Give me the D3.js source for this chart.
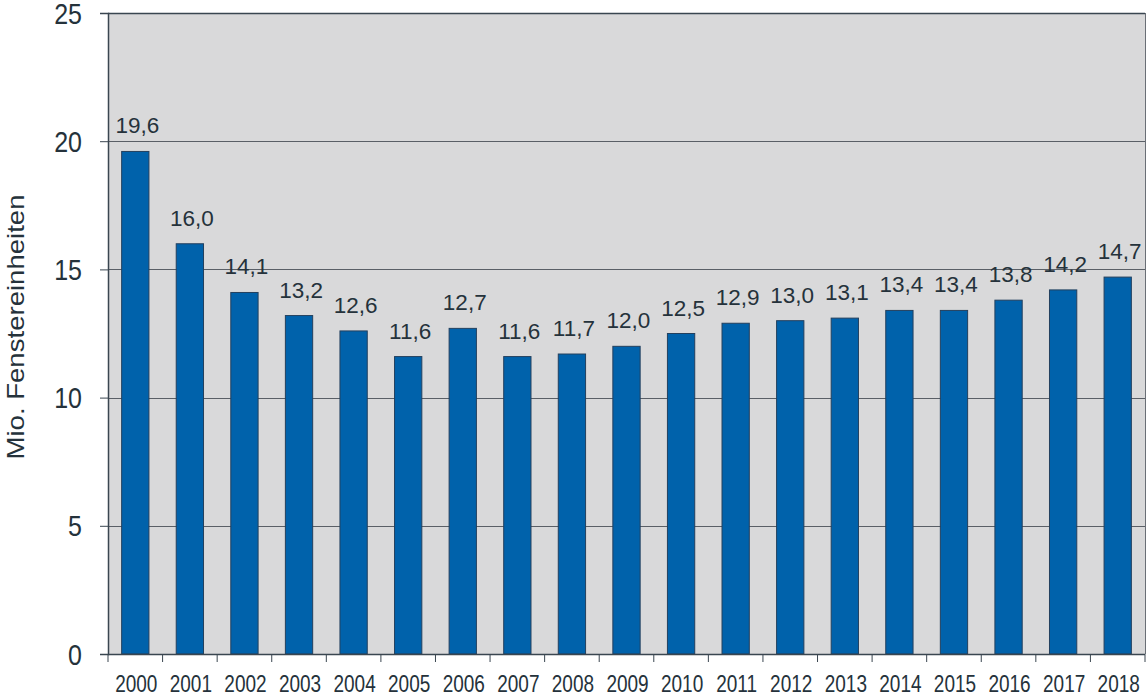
<!DOCTYPE html>
<html><head><meta charset="utf-8">
<script src="https://cdn.jsdelivr.net/npm/d3@7"></script>
<style>html,body{margin:0;padding:0;background:#fff;}svg{display:block;}</style>
</head><body>
<svg id="c" width="1148" height="695"></svg>
<script>
const years = ["2000","2001","2002","2003","2004","2005","2006","2007","2008","2009","2010","2011","2012","2013","2014","2015","2016","2017","2018"];
const values = [19.6,16.0,14.1,13.2,12.6,11.6,12.7,11.6,11.7,12.0,12.5,12.9,13.0,13.1,13.4,13.4,13.8,14.2,14.7];
const yTicks = [0,5,10,15,20,25];
const yTitle = "Mio. Fenstereinheiten";

const svg = d3.select("#c");
const L = 108, R = 1145, T = 13, B = 654;
const x = d3.scaleBand().domain(years).range([L, R]).paddingInner(0.5).paddingOuter(0.25);
const y = d3.scaleLinear().domain([0, 25]).range([B, T]);
const textCol = "#25323b";
const font = "Liberation Sans, Arial, sans-serif";
const fmt = v => d3.format(".1f")(v).replace(".", ",");

// plot background
svg.append("rect").attr("x", L).attr("y", T).attr("width", R - L).attr("height", B - T).attr("fill", "#d9d9da");

// gridlines
svg.append("g").selectAll("line").data(yTicks.filter(t => t > 0)).join("line")
  .attr("x1", L).attr("x2", R).attr("y1", d => Math.round(y(d)) + 0.5).attr("y2", d => Math.round(y(d)) + 0.5)
  .attr("stroke", d => d === 25 ? "#3a4650" : "#5a5f66").attr("stroke-width", d => d === 25 ? 1.5 : 1);

// right border
svg.append("line").attr("x1", R + 0.5).attr("x2", R + 0.5).attr("y1", T).attr("y2", B).attr("stroke", "#6a6f76").attr("stroke-width", 1);

// bars
svg.append("g").selectAll("rect").data(values).join("rect")
  .attr("x", (d, i) => x(years[i]))
  .attr("y", d => y(d))
  .attr("width", x.bandwidth())
  .attr("height", d => B - y(d))
  .attr("fill", "#0062ab")
  .attr("stroke", "#23405e").attr("stroke-width", 1);

// value labels
svg.append("g").selectAll("text").data(values).join("text")
  .attr("x", (d, i) => x(years[i]) + x.bandwidth() / 2 + 2)
  .attr("y", d => y(d) - 18)
  .attr("text-anchor", "middle")
  .attr("font-family", font)
  .attr("font-size", 22.5)
  .attr("fill", textCol)
  .text(d => fmt(d));

// y axis
const yAxis = d3.axisLeft(y).tickValues(yTicks).tickSize(8).tickFormat(d3.format("d"));
const gy = svg.append("g").attr("transform", `translate(${L},0)`).call(yAxis);
gy.select(".domain").attr("stroke", "#3a4650").attr("stroke-width", 1.5);
gy.selectAll(".tick line").attr("stroke", "#3a4650");
gy.selectAll(".tick text")
  .attr("font-family", font).attr("font-size", 25)
  .attr("fill", textCol).attr("x", 0).attr("y", 0).attr("dy", null)
  .attr("transform", "translate(-26,10) scale(1,1.15)");

// x axis with ticks at band boundaries
const step = x.step();
const bounds = years.map((yr, i) => L + i * step).concat([R]);
const gx = svg.append("g");
gx.append("line").attr("x1", L).attr("x2", R).attr("y1", B + 0.5).attr("y2", B + 0.5).attr("stroke", "#3a4650").attr("stroke-width", 1.5);
gx.selectAll("line.t").data(bounds).join("line").attr("class", "t")
  .attr("x1", d => d).attr("x2", d => d).attr("y1", B).attr("y2", B + 8)
  .attr("stroke", "#3a4650");
gx.selectAll("text").data(years).join("text")
  .attr("transform", d => `translate(${x(d) + x.bandwidth() / 2 + 1},${692}) scale(1,1.22)`)
  .attr("text-anchor", "middle")
  .attr("font-family", font)
  .attr("font-size", 19)
  .attr("fill", textCol)
  .text(d => d);

// y title
svg.append("text")
  .attr("transform", `translate(24,327) rotate(-90)`)
  .attr("text-anchor", "middle")
  .attr("font-family", font)
  .attr("font-size", 24)
  .attr("textLength", 265).attr("lengthAdjust", "spacingAndGlyphs")
  .attr("fill", textCol)
  .text(yTitle);
</script>
</body></html>
